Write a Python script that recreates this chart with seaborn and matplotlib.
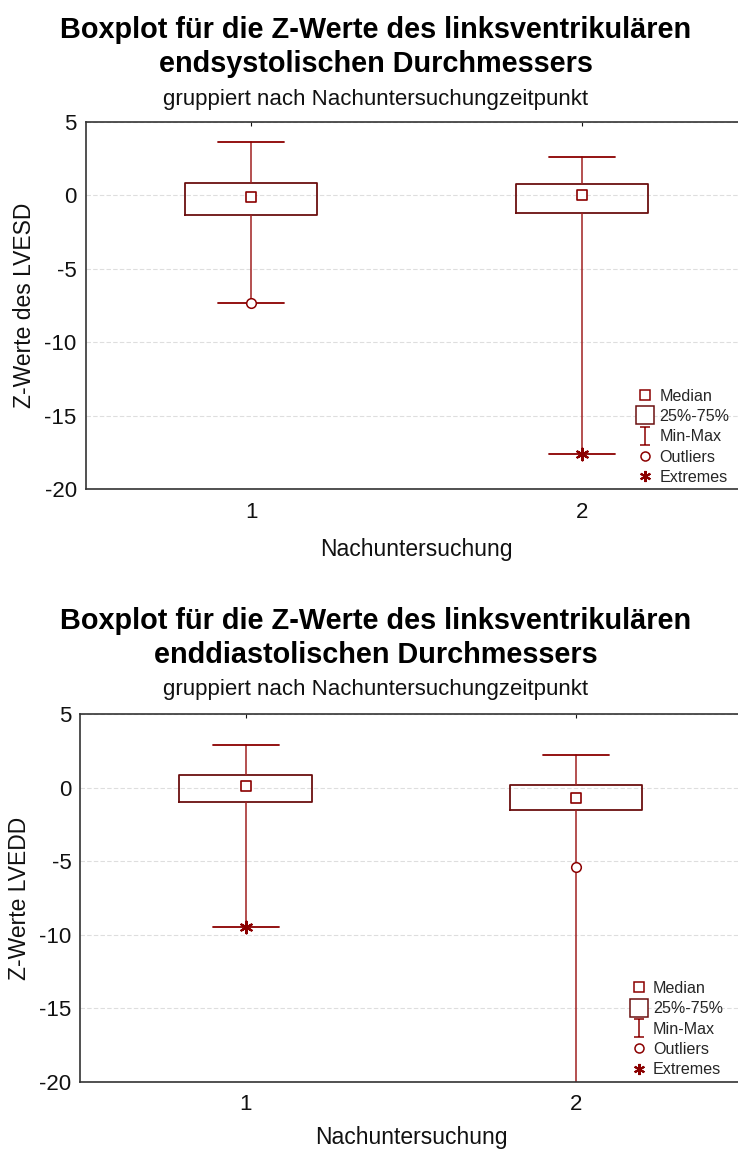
import numpy as np
import pandas as pd
import matplotlib
matplotlib.use("Agg")
import matplotlib.pyplot as plt
import seaborn as sns
from matplotlib.lines import Line2D
from matplotlib.path import Path

# Follow-up examinations (categories on the x axis)
groups = ["1", "2"]

# Z-scores of the left-ventricular end-systolic diameter (LVESD)
lvesd_min = [-7.3, -17.6]
lvesd_q1 = [-1.3, -1.2]
lvesd_median = [-0.1, 0.0]
lvesd_q3 = [0.85, 0.8]
lvesd_max = [3.65, 2.65]
lvesd_outliers = [[-7.3], []]
lvesd_extremes = [[], [-17.6]]

# Z-scores of the left-ventricular end-diastolic diameter (LVEDD)
lvedd_min = [-9.5, -23.0]
lvedd_q1 = [-0.95, -1.5]
lvedd_median = [0.15, -0.7]
lvedd_q3 = [0.9, 0.2]
lvedd_max = [2.9, 2.2]
lvedd_outliers = [[], [-5.4]]
lvedd_extremes = [[-9.5], [-23.0]]

yticks = [5, 0, -5, -10, -15, -20]

RED = "#8b0000"
BOX = "#6b0f0f"
WHISK = "#a02020"

sns.set_theme(style="white")
plt.rcParams["font.family"] = ["Liberation Sans", "DejaVu Sans"]

fig = plt.figure(figsize=(7.38, 11.49), dpi=100)

# I-beam marker for the Min-Max legend entry
ibeam = Path([(-0.5, -1), (0.5, -1), (0, -1), (0, 1), (-0.5, 1), (0.5, 1)],
             [Path.MOVETO, Path.LINETO, Path.MOVETO, Path.LINETO, Path.MOVETO, Path.LINETO])
ASTER = (6, 2, 0)


def draw_panel(ax, mins, q1s, meds, q3s, maxs, outl, extr, ylabel, xlabelpad):
    pos = np.arange(len(groups))
    stats = [dict(med=m, q1=a, q3=b, whislo=lo, whishi=hi, fliers=[], label=g)
             for g, lo, a, m, b, hi in zip(groups, mins, q1s, meds, q3s, maxs)]
    ax.bxp(stats, positions=pos, widths=0.4, capwidths=0.2, showfliers=False,
           boxprops=dict(color=BOX, linewidth=1.3),
           whiskerprops=dict(color=WHISK, linewidth=1.1),
           capprops=dict(color=RED, linewidth=1.3),
           medianprops=dict(linewidth=0))

    med_df = pd.DataFrame({"pos": pos, "value": meds})
    sns.scatterplot(data=med_df, x="pos", y="value", marker="s", s=42,
                    facecolor="white", edgecolor=RED, linewidth=1.2,
                    ax=ax, zorder=4, legend=False)

    out_df = pd.DataFrame([(p, v) for p, vals in zip(pos, outl) for v in vals],
                          columns=["pos", "value"])
    if len(out_df):
        sns.scatterplot(data=out_df, x="pos", y="value", marker="o", s=48,
                        facecolor="white", edgecolor=RED, linewidth=1.1,
                        ax=ax, zorder=4, legend=False)

    ext_df = pd.DataFrame([(p, v) for p, vals in zip(pos, extr) for v in vals],
                          columns=["pos", "value"])
    if len(ext_df):
        sns.scatterplot(data=ext_df, x="pos", y="value", marker=ASTER, s=70,
                        color=RED, linewidth=1.6, ax=ax, zorder=4, legend=False)

    ax.set_xlim(-0.5, len(groups) - 0.5)
    ax.set_ylim(-20, 5)
    ax.set_yticks(yticks)
    ax.set_yticklabels([str(t) for t in yticks])
    ax.set_xticks(pos)
    ax.set_xticklabels(groups)
    ax.yaxis.grid(True, color="#dedede", linestyle=(0, (4, 2)), linewidth=0.8)
    ax.xaxis.grid(False)
    ax.set_axisbelow(True)
    for side in ["left", "top", "bottom"]:
        ax.spines[side].set_color("#333333")
        ax.spines[side].set_linewidth(1.2)
    ax.spines["right"].set_visible(False)
    ax.tick_params(axis="y", length=0, pad=6.5, labelsize=16, colors="#111111")
    ax.tick_params(axis="x", direction="in", length=3, width=0.8, top=True,
                   pad=9, labelsize=16, colors="#111111")
    ax.set_xlabel("Nachuntersuchung", fontsize=16.5, labelpad=xlabelpad, color="#111111")
    ax.set_ylabel(ylabel, fontsize=16.5, labelpad=6, color="#111111")

    handles = [
        Line2D([], [], ls="none", marker="s", ms=6.5, mfc="white", mec=RED, mew=1.1),
        Line2D([], [], ls="none", marker="s", ms=12.5, mfc="white", mec=BOX, mew=1.1),
        Line2D([], [], ls="none", marker=ibeam, ms=13, mec=RED, mew=1.1),
        Line2D([], [], ls="none", marker="o", ms=6.5, mfc="white", mec=RED, mew=1.1),
        Line2D([], [], ls="none", marker=ASTER, ms=8, mec=RED, mew=1.5),
    ]
    labels = ["Median", "25%-75%", "Min-Max", "Outliers", "Extremes"]
    ax.legend(handles, labels, loc="lower right", bbox_to_anchor=(0.972, 0.012),
              frameon=False, fontsize=11.6, handlelength=1.0, handletextpad=0.35,
              labelspacing=0.33, borderpad=0, borderaxespad=0)


ax1 = fig.add_axes([85.7 / 738, 1 - 489.3 / 1149, 662 / 738, 367.3 / 1149])
draw_panel(ax1, lvesd_min, lvesd_q1, lvesd_median, lvesd_q3, lvesd_max,
           lvesd_outliers, lvesd_extremes, "Z-Werte des LVESD", 11)

ax2 = fig.add_axes([80.3 / 738, 1 - 1081.7 / 1149, 661.2 / 738, 367.4 / 1149])
draw_panel(ax2, lvedd_min, lvedd_q1, lvedd_median, lvedd_q3, lvedd_max,
           lvedd_outliers, lvedd_extremes, "Z-Werte LVEDD", 8)

cx = 376 / 738
TSIZE = 20.8
fig.text(cx, 1 - 30 / 1149, "Boxplot für die Z-Werte des linksventrikulären",
         ha="center", va="center", fontsize=TSIZE, fontweight="bold", color="black")
fig.text(cx, 1 - 64 / 1149, "endsystolischen Durchmessers",
         ha="center", va="center", fontsize=TSIZE, fontweight="bold", color="black")
fig.text(cx, 1 - 100 / 1149, "gruppiert nach Nachuntersuchungzeitpunkt",
         ha="center", va="center", fontsize=16, color="#111111")

fig.text(cx, 1 - 621 / 1149, "Boxplot für die Z-Werte des linksventrikulären",
         ha="center", va="center", fontsize=TSIZE, fontweight="bold", color="black")
fig.text(cx, 1 - 655 / 1149, "enddiastolischen Durchmessers",
         ha="center", va="center", fontsize=TSIZE, fontweight="bold", color="black")
fig.text(cx, 1 - 690 / 1149, "gruppiert nach Nachuntersuchungzeitpunkt",
         ha="center", va="center", fontsize=16, color="#111111")

fig.savefig("out.png", dpi=100, facecolor="white")
